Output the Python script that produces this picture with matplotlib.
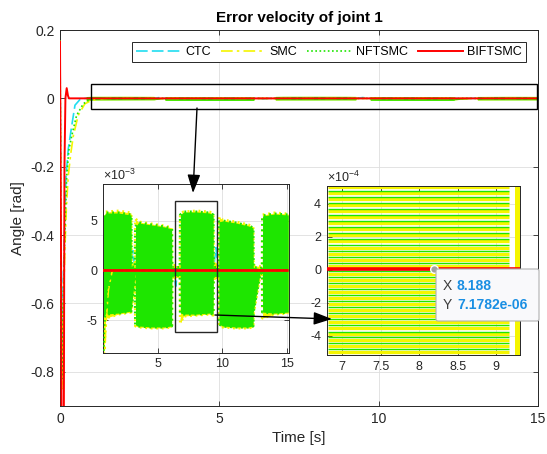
import numpy as np
import matplotlib
matplotlib.use("Agg")
import matplotlib.pyplot as plt
from matplotlib.patches import Rectangle, FancyArrowPatch, FancyBboxPatch
from matplotlib.lines import Line2D
from matplotlib.ticker import FuncFormatter

plt.rcParams['font.family'] = ['Liberation Sans', 'DejaVu Sans']
plt.rcParams['axes.unicode_minus'] = False
plt.rcParams['mathtext.fontset'] = 'custom'
plt.rcParams['mathtext.rm'] = 'Liberation Sans'

# transient part of the joint 1 velocity error (rad)
ctc_t = [0, 0.03, 0.06, 0.10, 0.15, 0.19, 0.26, 0.37, 0.47, 0.63, 0.8, 1.0,
         2.9, 3.1, 3.25, 6.25, 6.4, 6.55, 9.3, 9.5, 9.7, 12.4, 12.6, 12.8, 15]
ctc = [0.17, -0.40, -0.74, -0.55, -0.35, -0.226, -0.148, -0.079, -0.020, -0.003, 0, 0,
       0, 2.0e-3, 0, 0, -1.6e-3, 0, 0, 2.3e-3, 0, 0, -1.5e-3, 0, 0]

smc_t = [0, 0.03, 0.06, 0.10, 0.15, 0.20, 0.26, 0.34, 0.42, 0.57, 0.78, 0.99, 1.2, 1.5, 15]
smc = [0.17, -0.45, -0.85, -0.65, -0.45, -0.32, -0.226, -0.16, -0.109, -0.050, -0.016,
       -0.006, -0.002, 0, 0]

nft_t = [0, 0.03, 0.06, 0.10, 0.15, 0.21, 0.28, 0.37, 0.52, 0.73, 0.89, 1.1, 1.4, 15]
nft = [0.17, -0.45, -0.82, -0.60, -0.40, -0.226, -0.15, -0.109, -0.050, -0.016, -0.006,
       -0.002, 0, 0]

bif_t = [0, 0.03, 0.05, 0.12, 0.14, 0.17, 0.21, 0.25, 0.28, 15]
bif = [0.166, -0.40, -0.95, -0.95, -0.20, 0.0, 0.030, 0.008, 0.0, 0.0]

# chattering envelopes after the transient (x1e-3 rad)
env_t = [0.82, 1.0, 2.0, 2.95, 2.97, 3.27, 3.3, 3.5, 4.5, 5.5, 6.08, 6.1, 6.5, 6.74,
         6.76, 7.0, 8.0, 9.0, 9.28, 9.3, 9.72, 9.74, 10.0, 11.0, 12.0, 12.36, 12.38,
         12.9, 13.08, 13.1, 14.0, 15.08]
nft_upper = [5.4, 5.8, 5.8, 5.6, 0.4, 0.3, 4.4, 4.8, 4.6, 4.4, 4.2, 0.3, 0.3, 0.3,
             5.6, 5.9, 5.9, 5.8, 5.6, 0.3, 0.3, 4.9, 5.0, 4.8, 4.5, 4.3, 0.3,
             0.2, 0.3, 5.5, 5.7, 5.6]
nft_lower = [-4.6, -4.4, -4.3, -4.1, -3.8, -0.3, -5.5, -5.6, -5.7, -5.7, -5.6, -0.6, -0.5, -0.5,
             -4.3, -4.4, -4.4, -4.3, -4.4, -0.6, -0.6, -5.4, -5.6, -5.7, -5.7, -5.6, -4.2,
             -0.3, -0.3, -4.2, -4.3, -4.2]
smc_upper = [5.4, 5.9, 6.0, 5.8, 0.8, 0.5, 5.2, 4.9, 4.7, 4.5, 4.3, 0.5, 0.5, 0.5,
             5.7, 5.9, 6.0, 5.9, 5.7, 1.0, 0.5, 5.4, 5.1, 4.9, 4.6, 4.4, 0.5,
             0.4, 0.4, 5.6, 5.8, 5.7]
smc_lower = [-9.0, -4.8, -4.4, -4.2, -4.0, -0.5, -5.6, -5.7, -5.8, -5.8, -5.7, -0.8, -0.7, -0.7,
             -5.3, -4.6, -4.5, -4.4, -4.5, -0.8, -0.8, -5.5, -5.7, -5.8, -5.8, -5.7, -4.4,
             -0.5, -0.5, -4.8, -4.4, -4.3]

# switching levels seen in the close-up (x1e-4 rad)
stripe_levels = [-4.98, -4.62, -4.25, -3.90, -3.52, -3.16, -2.80, -2.43, -2.07, -1.70,
                 -1.34, -0.98, -0.60, -0.25, 0.25, 0.62, 0.98, 1.35, 1.72, 2.08, 2.45,
                 2.82, 3.18, 3.55, 3.92, 4.28, 4.65, 5.00]
stripe_t = [6.82, 9.17]
smc_edge_t = [9.24, 9.31]

tip_x = 8.188
tip_y = 7.1782e-06

C_CTC = '#20DDF0'
C_SMC = '#F5F500'
C_NFT = '#1EE600'
C_BIF = '#FF0000'
AX_COL = '#262626'
GRID_COL = '#DEDEDE'

ls_ctc = (0, (7, 2.5))
ls_smc = (0, (7, 2.5, 1.5, 2.5))
ls_nft = (0, (1, 1.5))

W, H = 547, 454


def fig_xy(x, y):
    return x / W, 1 - y / H


def fig_rect(x0, y0, x1, y1):
    return [x0 / W, 1 - y1 / H, (x1 - x0) / W, (y1 - y0) / H]


def style_axes(a, size):
    a.tick_params(direction='in', top=True, right=True, length=3.5, width=0.6,
                  colors=AX_COL, labelsize=size, pad=4)
    for s in a.spines.values():
        s.set_color(AX_COL)
        s.set_linewidth(0.7)
    a.grid(True, color=GRID_COL, linewidth=0.6)
    a.set_axisbelow(True)


def draw_series(a, red_lw, rough=False):
    e = np.array(env_t)
    su, sl = np.array(smc_upper) * 1e-3, np.array(smc_lower) * 1e-3
    nu, nl = np.array(nft_upper) * 1e-3, np.array(nft_lower) * 1e-3
    a.plot(ctc_t, ctc, color=C_CTC, ls=ls_ctc, lw=1.2, zorder=1.9)
    a.fill_between(e, sl, su, color=C_SMC, lw=0, zorder=2)
    a.fill_between(e, nl, nu, color=C_NFT, lw=0, zorder=2.1)
    if rough:
        # speckled rims of the switching bands
        for lo, hi, c in [(sl, su, C_SMC), (nl, nu, C_NFT)]:
            a.plot(e, hi, color=c, ls=(0, (0.6, 1.2)), lw=2.2, zorder=2.05)
            a.plot(e, lo, color=c, ls=(0, (0.6, 1.2)), lw=2.2, zorder=2.05)
    a.plot(smc_t, smc, color=C_SMC, ls=ls_smc, lw=1.2, zorder=3)
    a.plot(nft_t, nft, color=C_NFT, ls=ls_nft, lw=1.2, zorder=3)
    a.plot(bif_t, bif, color=C_BIF, lw=red_lw, zorder=4)


fig = plt.figure(figsize=(W / 100, H / 100), dpi=100)

# main axes
ax = fig.add_axes(fig_rect(60, 30, 538, 406))
style_axes(ax, 10)
draw_series(ax, 1.4)
ax.set_xlim(0, 15)
ax.set_ylim(-0.9, 0.2)
ax.set_xticks([0, 5, 10, 15])
ax.set_yticks([-0.8, -0.6, -0.4, -0.2, 0, 0.2])
ax.yaxis.set_major_formatter(FuncFormatter(lambda v, p: f'{v:g}'))
ax.set_title('Error velocity of joint 1', fontsize=11, fontweight='bold',
             color='black', pad=6)
ax.set_xlabel('Time [s]', fontsize=11, color=AX_COL)
ax.set_ylabel('Angle [rad]', fontsize=11, color=AX_COL)
ax.add_patch(Rectangle((0.963, -0.030), 14.0, 0.073, fill=False,
                       edgecolor='black', lw=1, zorder=5))

handles = [Line2D([], [], color=C_CTC, ls=ls_ctc, lw=1.2),
           Line2D([], [], color=C_SMC, ls=ls_smc, lw=1.2),
           Line2D([], [], color=C_NFT, ls=ls_nft, lw=1.2),
           Line2D([], [], color=C_BIF, lw=1.4)]
leg = ax.legend(handles, ['CTC', 'SMC', 'NFTSMC', 'BIFTSMC'], loc='center',
                bbox_to_anchor=fig_xy(329, 52), bbox_transform=fig.transFigure,
                ncol=4, fontsize=9, frameon=True, fancybox=False,
                edgecolor=AX_COL, framealpha=1, handlelength=3.6,
                handletextpad=0.3, columnspacing=0.8, borderpad=0.35,
                borderaxespad=0)
leg.get_frame().set_linewidth(0.7)
leg.set_zorder(10)

# first close-up
ax1 = fig.add_axes(fig_rect(103.3, 184.3, 289.3, 352.7))
style_axes(ax1, 9)
draw_series(ax1, 2.0, rough=True)
ax1.set_xlim(0.81, 15.16)
ax1.set_ylim(-8.3e-3, 8.7e-3)
ax1.set_xticks([5, 10, 15])
ax1.set_yticks([-5e-3, 0, 5e-3])
ax1.yaxis.set_major_formatter(FuncFormatter(lambda v, p: f'{round(v * 1e3, 6):g}'))
ax1.text(0, 1.005, r'$\times10^{-3}$', transform=ax1.transAxes, ha='left',
         va='bottom', fontsize=9, color=AX_COL)
ax1.add_patch(Rectangle((6.37, -6.2e-3), 3.23, 13.2e-3, fill=False,
                        edgecolor=AX_COL, lw=1, zorder=5))

# second close-up
ax2 = fig.add_axes(fig_rect(326.7, 185.7, 520, 355))
style_axes(ax2, 9)
lev = np.array(stripe_levels) * 1e-4
ax2.hlines(lev, stripe_t[0], stripe_t[1], color=C_SMC, lw=2.4, zorder=2)
ax2.hlines(lev + 0.15e-4, stripe_t[0], stripe_t[1], color=C_NFT, lw=1.0, zorder=2.1)
ax2.axvspan(smc_edge_t[0], smc_edge_t[1], color=C_SMC, lw=0, zorder=2)
ax2.plot(bif_t, np.array(bif) + tip_y, color=C_BIF, lw=2.6, zorder=4)
ax2.plot([tip_x], [tip_y], 'o', ms=5.5, mfc='#A0A0A0', mec='white', mew=1,
         zorder=6, clip_on=False)
ax2.set_xlim(6.8, 9.31)
ax2.set_ylim(-5.17e-4, 5.1e-4)
ax2.set_xticks([7, 7.5, 8, 8.5, 9])
ax2.xaxis.set_major_formatter(FuncFormatter(lambda v, p: f'{v:g}'))
ax2.set_yticks([-4e-4, -2e-4, 0, 2e-4, 4e-4])
ax2.yaxis.set_major_formatter(FuncFormatter(lambda v, p: f'{round(v * 1e4, 6):g}'))
ax2.text(0, 1.005, r'$\times10^{-4}$', transform=ax2.transAxes, ha='left',
         va='bottom', fontsize=9, color=AX_COL)

# arrows linking the zoom boxes
for p0, p1 in [((197, 108), (193, 193)), ((215, 315), (332, 319))]:
    fig.add_artist(FancyArrowPatch(fig_xy(*p0), fig_xy(*p1),
                                   transform=fig.transFigure,
                                   arrowstyle='-|>,head_length=0.8,head_width=0.28',
                                   mutation_scale=14, color='black', lw=1,
                                   shrinkA=0, shrinkB=0, zorder=8))

# data tip
x0, y1 = fig_xy(436, 269)
x1, y0 = fig_xy(539, 321)
fig.add_artist(FancyBboxPatch((x0, y0), x1 - x0, y1 - y0,
                              boxstyle='round,pad=0,rounding_size=0.004',
                              transform=fig.transFigure, facecolor='#F9F9FB',
                              edgecolor='#B0B0B0', lw=0.8, zorder=9))
for row, (name, val) in enumerate([('X', f'{tip_x:g}'), ('Y', f'{tip_y:.4e}')]):
    yy = 286 + row * 19
    fig.text(*fig_xy(443, yy), name, fontsize=10, color='#3C3C3C',
             va='center', ha='left', zorder=10)
    fig.text(*fig_xy(457, yy), val, fontsize=10, color='#1A8FE3',
             fontweight='bold', va='center', ha='left', zorder=10)

fig.savefig('out.png', dpi=100)
